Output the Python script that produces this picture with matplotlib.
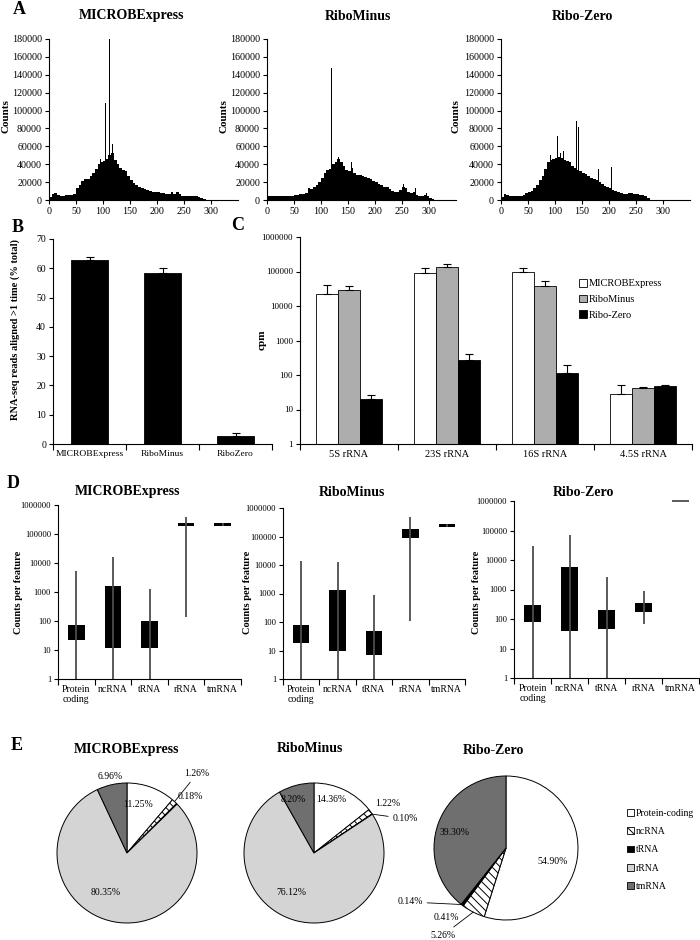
import numpy as np
import matplotlib
matplotlib.use("Agg")
import matplotlib.pyplot as plt
from matplotlib.patches import Patch

plt.rcParams["font.family"] = ["Liberation Serif", "DejaVu Serif"]
plt.rcParams["hatch.linewidth"] = 0.7
plt.rcParams["axes.linewidth"] = 0.8

# ---------------- data ----------------
# A: read-length histograms, 5-unit bins from 0 (counts in thousands)
microbe_hist_k = [3, 7, 8, 6, 5, 5, 6, 6, 6, 7,
                  13, 17, 21, 23, 24, 27, 30, 35, 40, 42,
                  44, 46, 50, 52, 45, 40, 36, 33, 32, 27,
                  22, 19, 17, 15, 13, 12, 11, 10, 9.5, 9,
                  8.5, 8, 7.5, 7, 7, 9, 7, 9, 7, 5,
                  5, 4.5, 4, 5, 4, 3, 2, 1]
microbe_spike_x = [95, 100, 105, 112, 117, 124, 141]
microbe_spike_k = [46, 47, 108, 180, 63, 57, 37]

minus_hist_k = [4, 5, 5, 4.5, 4.5, 4.5, 4.5, 4.5, 5, 5,
                5.5, 6, 6.5, 7, 8, 13, 12, 15, 17, 20,
                25, 30, 33, 35, 40, 42, 46, 42, 38, 33,
                32, 36, 30, 28, 28, 27, 26, 25, 23, 21,
                20, 18, 17, 15, 14, 12, 10, 9, 9, 11,
                15, 13, 9, 8, 9, 6, 5, 5, 6, 5,
                2, 1]
minus_spike_x = [120, 128, 133, 157, 226, 253, 275, 295]
minus_spike_k = [148, 122, 48, 43, 24, 18, 13, 8]

zero_hist_k = [3, 7, 6, 4, 4, 4, 4.5, 5, 6, 8,
               9, 10, 13, 17, 22, 27, 35, 42, 45, 46,
               47, 48, 47, 45, 44, 42, 38, 36, 34, 32,
               30, 29, 27, 25, 23, 22, 20, 18, 16, 14,
               13, 11, 10, 8.5, 7.5, 7, 7, 8, 8, 7,
               6.5, 6, 5.5, 5, 2, 0.5]
zero_spike_x = [85, 92, 98, 105, 110, 116, 140, 143, 148, 180, 205, 239]
zero_spike_k = [52, 50, 60, 71, 52, 55, 88, 82, 40, 35, 37, 11]

# B
b_labels = ["MICROBExpress", "RiboMinus", "RiboZero"]
b_values = [62.8, 58.3, 2.7]
b_err = [1.0, 1.7, 1.0]

# C
c_cats = ["5S rRNA", "23S rRNA", "16S rRNA", "4.5S rRNA"]
c_microbe = [22900, 91000, 97000, 29]
c_microbe_err = [17000, 35000, 29000, 21]
c_minus = [28400, 135000, 37000, 43]
c_minus_err = [8600, 27000, 15000, 2]
c_zero = [20.6, 277, 117, 47]
c_zero_err = [6.4, 121, 73, 3]

# D: box plots (whisker low, q1, q3, whisker high)
d_cats = ["Protein\ncoding", "ncRNA", "tRNA", "rRNA", "tmRNA"]
d_microbe_lo = [1, 1, 1, 142, 190000]
d_microbe_q1 = [22, 11.5, 11.5, 190000, 190000]
d_microbe_q3 = [73, 1550, 104, 235000, 245000]
d_microbe_hi = [5100, 15500, 1290, 380000, 245000]
d_minus_lo = [1, 1, 1, 110, 215000]
d_minus_q1 = [19, 9.8, 7, 87000, 215000]
d_minus_q3 = [80, 1300, 50, 190000, 265000]
d_minus_hi = [14000, 13000, 900, 500000, 265000]
d_zero_lo = [1, 1, 1, 69, 1e6]
d_zero_q1 = [78, 40, 46, 170, 1e6]
d_zero_q3 = [300, 5900, 204, 340, 1e6]
d_zero_hi = [29500, 69000, 2700, 890, 1e6]

# E: pies
e_labels = ["Protein-coding", "ncRNA", "tRNA", "rRNA", "tmRNA"]
e_microbe = [11.25, 1.26, 0.18, 80.35, 6.96]
e_minus = [14.36, 1.22, 0.10, 76.12, 8.20]
e_zero = [54.90, 5.26, 0.41, 0.14, 39.30]

# ---------------- figure ----------------
W, H = 700, 940
fig = plt.figure(figsize=(7, 9.4), dpi=100)


def add_ax(x0, y0, x1, y1):
    return fig.add_axes([x0 / W, 1 - y1 / H, (x1 - x0) / W, (y1 - y0) / H])


def ftext(x, y, s, **kw):
    fig.text(x / W, 1 - y / H, s, ha="center", va="center", **kw)


def style(ax):
    ax.spines["top"].set_visible(False)
    ax.spines["right"].set_visible(False)
    ax.tick_params(width=0.8, length=3, pad=2)


def cat_axis(ax, n, fs):
    ax.set_xlim(-0.5, n - 0.5)
    ax.set_xticks(np.arange(n))
    ax.set_xticks(np.arange(n + 1) - 0.5, minor=True)
    ax.tick_params(axis="x", which="major", length=0, labelsize=fs, pad=4)
    ax.tick_params(axis="x", which="minor", length=4, width=0.8)


def log_axis(ax, fs):
    ax.set_yscale("log")
    ax.set_ylim(1, 1e6)
    ticks = [1, 10, 100, 1000, 10000, 100000, 1000000]
    ax.set_yticks(ticks)
    ax.set_yticklabels([str(t) for t in ticks])
    ax.yaxis.set_minor_locator(matplotlib.ticker.NullLocator())
    ax.tick_params(axis="y", labelsize=fs)


# A
hist_sets = [
    ("MICROBExpress", microbe_hist_k, microbe_spike_x, microbe_spike_k, 49, 132, 6),
    ("RiboMinus", minus_hist_k, minus_spike_x, minus_spike_k, 267, 358, 224),
    ("Ribo-Zero", zero_hist_k, zero_spike_x, zero_spike_k, 501, 582, 456),
]
for title, vals, sx, sk, x0, tx, lx in hist_sets:
    ax = add_ax(x0, 39, x0 + 189, 200)
    starts = 5 * np.arange(len(vals))
    ax.bar(starts, np.array(vals) * 1000, width=5, align="edge", color="black", linewidth=0)
    ax.bar(sx, np.array(sk) * 1000, width=1.3, color="black", linewidth=0)
    ax.set_xlim(0, 350)
    ax.set_ylim(0, 180000)
    ax.set_xticks(range(0, 301, 50))
    ax.set_yticks(range(0, 180001, 20000))
    style(ax)
    ax.tick_params(labelsize=7.2)
    ftext(tx, 16, title, fontsize=10, fontweight="bold")
    ftext(lx, 116, "Counts", fontsize=8, fontweight="bold", rotation=90)
ftext(19, 9, "A", fontsize=13, fontweight="bold")

# B
ax = add_ax(53, 239, 272, 444)
xb = np.arange(len(b_values))
ax.bar(xb, b_values, width=0.52, color="black", edgecolor="black", linewidth=0.6)
ax.errorbar(xb, b_values, yerr=[np.zeros(len(b_err)), b_err], fmt="none",
            ecolor="black", elinewidth=0.8, capsize=3, capthick=0.8)
ax.set_ylim(0, 70)
ax.set_yticks(range(0, 71, 10))
style(ax)
cat_axis(ax, 3, 6.8)
ax.set_xticklabels(b_labels)
ax.tick_params(axis="y", labelsize=7)
ftext(18, 228, "B", fontsize=13, fontweight="bold")
ftext(15, 330, "RNA-seq reads aligned >1 time (% total)", fontsize=7.5,
      fontweight="bold", rotation=90)

# C
ax = add_ax(300, 237, 692, 444)
xc = np.arange(len(c_cats))
bw = 0.225
series = [(c_microbe, c_microbe_err, "white", "MICROBExpress"),
          (c_minus, c_minus_err, "#adadad", "RiboMinus"),
          (c_zero, c_zero_err, "black", "Ribo-Zero")]
for i, (vals, err, col, lab) in enumerate(series):
    pos = xc + (i - 1) * bw
    ax.bar(pos, vals, width=bw, color=col, edgecolor="black", linewidth=0.6, label=lab)
    ax.errorbar(pos, vals, yerr=[np.zeros(len(err)), err], fmt="none",
                ecolor="black", elinewidth=0.8, capsize=3, capthick=0.8)
log_axis(ax, 6.5)
style(ax)
cat_axis(ax, 4, 7.5)
ax.set_xticklabels(c_cats)
ax.legend(loc="upper left", bbox_to_anchor=(574 / W, 1 - 274 / H),
          bbox_transform=fig.transFigure, frameon=False, fontsize=7.5,
          handlelength=0.7, handleheight=0.7, handletextpad=0.2,
          labelspacing=0.6, borderpad=0)
ftext(238, 226, "C", fontsize=13, fontweight="bold")
ftext(262, 340, "cpm", fontsize=8, fontweight="bold", rotation=90)

# D
box_sets = [
    ("MICROBExpress", d_microbe_lo, d_microbe_q1, d_microbe_q3, d_microbe_hi,
     (58, 505, 241, 679), 128, 19),
    ("RiboMinus", d_minus_lo, d_minus_q1, d_minus_q3, d_minus_hi,
     (283, 508, 465, 679), 352, 248),
    ("Ribo-Zero", d_zero_lo, d_zero_q1, d_zero_q3, d_zero_hi,
     (514, 501, 699, 678), 583, 476),
]
for title, lo, q1, q3, hi, box, tx, lx in box_sets:
    ax = add_ax(*box)
    pos = np.arange(len(d_cats))
    q1 = np.array(q1, dtype=float)
    q3 = np.array(q3, dtype=float)
    ax.vlines(pos, lo, hi, color="#4d4d4d", linewidth=1.3, clip_on=False)
    ax.bar(pos, q3 - q1, bottom=q1, width=0.45, color="black", linewidth=0)
    flat = q3 == q1
    ax.hlines(q1[flat], pos[flat] - 0.225, pos[flat] + 0.225, color="#4d4d4d",
              linewidth=1.3, clip_on=False)
    log_axis(ax, 6.2)
    style(ax)
    cat_axis(ax, 5, 7)
    ax.set_xticklabels(d_cats)
    ftext(tx, 492, title, fontsize=10, fontweight="bold")
    ftext(lx, 592, "Counts per feature", fontsize=7.5, fontweight="bold", rotation=90)
ftext(13, 484, "D", fontsize=13, fontweight="bold")

# E
pie_colors = ["white", "white", "black", "#d4d4d4", "#6f6f6f"]
pie_hatch = [None, "\\\\\\\\", None, None, None]
pie_sets = [
    ("MICROBExpress", e_microbe, (127, 853, 70), 127, 749,
     [(0.16, 0.69), (1.0, 1.13), (0.9, 0.8), (-0.3, -0.56), (-0.24, 1.09)],
     [False, True, False, False, False]),
    ("RiboMinus", e_minus, (314, 853, 70), 310, 749,
     [(0.25, 0.76), (1.06, 0.70), (1.3, 0.49), (-0.33, -0.56), (-0.3, 0.76)],
     [False, False, True, False, False]),
    ("Ribo-Zero", e_zero, (506, 848, 72), 493, 750,
     [(0.65, -0.19), (-0.875, -1.21), (-0.83, -0.96), (-1.33, -0.75), (-0.71, 0.21)],
     [False, True, False, True, False]),
]
for title, vals, (cx, cy, r), tx, ty, lpos, leader in pie_sets:
    half = 1.25 * r
    ax = add_ax(cx - half, cy - half, cx + half, cy + half)
    wedges, _ = ax.pie(vals, colors=pie_colors, startangle=90, counterclock=False,
                       wedgeprops=dict(edgecolor="black", linewidth=0.7))
    for w, h in zip(wedges, pie_hatch):
        if h:
            w.set_hatch(h)
    ax.set_xlim(-1.25, 1.25)
    ax.set_ylim(-1.25, 1.25)
    ax.set_aspect("equal")
    ax.axis("off")
    for w, v, p, lead in zip(wedges, vals, lpos, leader):
        s = "{:.2f}%".format(v)
        if lead:
            a = np.deg2rad((w.theta1 + w.theta2) / 2)
            ax.annotate(s, xy=(np.cos(a), np.sin(a)), xytext=p, fontsize=7,
                        ha="center", va="center",
                        arrowprops=dict(arrowstyle="-", lw=0.6, color="black",
                                        shrinkA=1, shrinkB=0))
        else:
            ax.text(p[0], p[1], s, fontsize=7, ha="center", va="center")
    ftext(tx, ty, title, fontsize=10, fontweight="bold")
ftext(17, 746, "E", fontsize=13, fontweight="bold")

handles = [Patch(facecolor=c, edgecolor="black", hatch=h, linewidth=0.6)
           for c, h in zip(pie_colors, pie_hatch)]
fig.legend(handles, e_labels, loc="upper left", bbox_to_anchor=(622 / W, 1 - 804 / H),
           frameon=False, fontsize=7, handlelength=0.7, handleheight=0.7,
           handletextpad=0.2, labelspacing=0.95, borderpad=0)

fig.savefig("out.png", dpi=100)
